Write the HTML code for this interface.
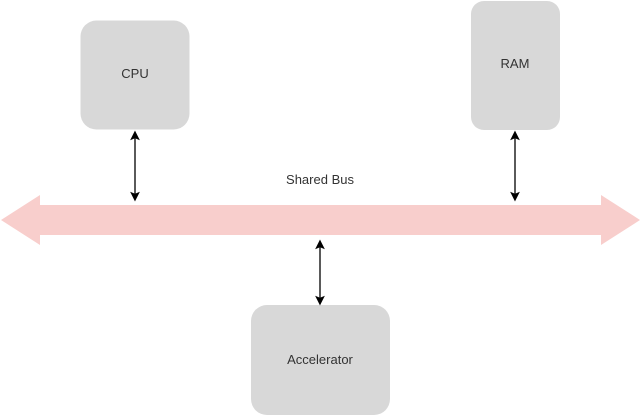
<!DOCTYPE html>
<html><head><style>html,body{margin:0;padding:0;background:#fff;}svg{display:block}</style></head>
<body>
<svg width="640" height="416" viewBox="0 0 640 416" xmlns="http://www.w3.org/2000/svg" font-family="Liberation Sans, sans-serif">
<rect x="80.5" y="20.5" width="109" height="109" rx="16" fill="#d8d8d8"/>
<text x="135" y="78" font-size="13" fill="#333" text-anchor="middle">CPU</text>
<rect x="471" y="1" width="89" height="129" rx="13" fill="#d8d8d8"/>
<text x="515" y="68" font-size="13" fill="#333" text-anchor="middle">RAM</text>
<rect x="251" y="305" width="139" height="110" rx="16" fill="#d8d8d8"/>
<text x="320" y="364" font-size="13" fill="#333" text-anchor="middle">Accelerator</text>
<polygon points="1,220 40,195 40,205 601,205 601,195 640,220 601,245 601,235 40,235 40,245" fill="#f8cecc"/>
<text x="320" y="184" font-size="13" fill="#333" text-anchor="middle">Shared Bus</text>
<g stroke="#000" stroke-width="1.3" fill="#000">
<line x1="135" y1="137" x2="135" y2="196"/>
<polygon points="135,132 138.5,139 135,137.5 131.5,139" />
<polygon points="135,200 138.5,193 135,194.5 131.5,193" />
<line x1="515" y1="137" x2="515" y2="196"/>
<polygon points="515,132 518.5,139 515,137.5 511.5,139" />
<polygon points="515,200 518.5,193 515,194.5 511.5,193" />
<line x1="320" y1="246" x2="320" y2="299"/>
<polygon points="320,241 323.5,248 320,246.5 316.5,248" />
<polygon points="320,304 323.5,297 320,298.5 316.5,297" />
</g>
</svg>
</body></html>
